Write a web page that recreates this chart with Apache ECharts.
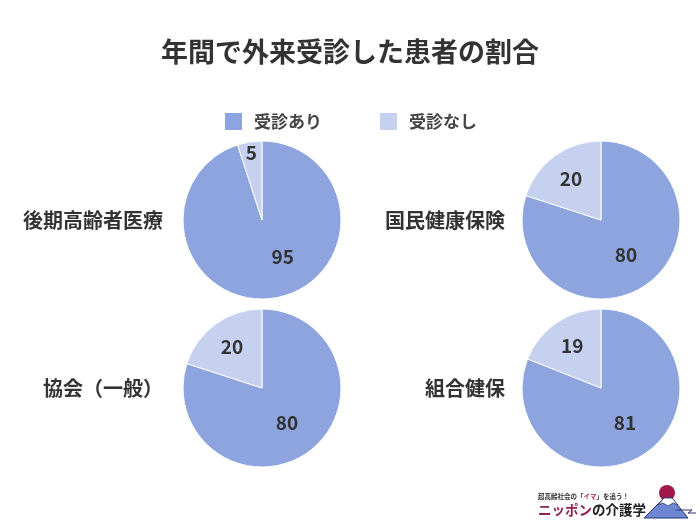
<!DOCTYPE html>
<html><head><meta charset="utf-8">
<script src="https://cdn.jsdelivr.net/npm/echarts@6/dist/echarts.min.js"></script>
<style>html,body{margin:0;padding:0;background:#fff}#c{width:700px;height:525px}</style>
</head><body><div id="c"></div>
<script>
const titleText = '年間で外来受診した患者の割合';
const seriesNames = ['受診あり', '受診なし'];
const categories = ['後期高齢者医療', '国民健康保険', '協会（一般）', '組合健保'];
const visitedValues = [95, 80, 80, 81];
const notVisitedValues = [5, 20, 20, 19];

const FONT = '"Noto Sans CJK JP", "Noto Sans", sans-serif';
const colors = ['#8da4de', '#c6d0ef'];
const centers = [[262, 220], [601, 220], [262, 388], [601, 388]];
const labelX = [163, 505, 163, 505];
const R = 79;

const chart = echarts.init(document.getElementById('c'), null, {renderer: 'canvas'});

function labelOffset(vals, i) {
  // push smaller-slice labels outward (derived from data angles)
  const total = vals.reduce((a, b) => a + b, 0);
  let start = 0;
  for (let k = 0; k < i; k++) start += vals[k];
  const mid = (start + vals[i] / 2) / total * 2 * Math.PI;
  const frac = vals[i] / total;
  if (frac > 0.9) return [14, -5];
  let f = 0.5;
  if (frac < 0.1) f = 0.82; else if (frac < 0.3) f = 0.61;
  const d = (f - 0.5) * R;
  return [Math.sin(mid) * d, -Math.cos(mid) * d];
}

const series = categories.map((cat, i) => {
  const vals = [visitedValues[i], notVisitedValues[i]];
  return {
    type: 'pie',
    name: cat,
    center: centers[i],
    radius: R,
    startAngle: 90,
    clockwise: true,
    animation: false,
    silent: true,
    itemStyle: {borderColor: '#fff', borderWidth: 1},
    label: {
      show: true, position: 'inside', formatter: '{c}',
      fontFamily: FONT, fontSize: 19, fontWeight: 'bold', color: '#333'
    },
    labelLine: {show: false},
    data: vals.map((v, j) => ({
      name: seriesNames[j], value: v,
      itemStyle: {color: colors[j]},
      label: {offset: labelOffset(vals, j)}
    }))
  };
});

const graphics = categories.map((cat, i) => ({
  type: 'text', x: labelX[i], y: centers[i][1],
  style: {text: cat, fontFamily: FONT, fontSize: 20, fontWeight: 'bold', fill: '#333',
          align: 'right', verticalAlign: 'middle'}
}));

// logo
graphics.push(
  {type: 'text', x: 538, y: 497, style: {
    text: '{a|超高齢社会の「}{b|イマ}{a|」を追う！}', verticalAlign: 'middle', align: 'left',
    rich: {a: {fontFamily: FONT, fontSize: 6.5, fontWeight: 'bold', fill: '#333'},
           b: {fontFamily: FONT, fontSize: 6.5, fontWeight: 'bold', fill: '#b0245a'}}}},
  {type: 'text', x: 538, y: 510, style: {
    text: '{a|ニッポン}{b|の介護学}', verticalAlign: 'middle', align: 'left',
    rich: {a: {fontFamily: FONT, fontSize: 13.5, fontWeight: 'bold', fill: '#8e1f4f'},
           b: {fontFamily: FONT, fontSize: 13.5, fontWeight: 'bold', fill: '#222'}}}},
  {type: 'circle', shape: {cx: 667, cy: 493, r: 8}, style: {fill: '#a3174a'}},
  {type: 'polygon', shape: {points: [[644, 518], [664, 498], [672, 498], [688, 518]]},
   style: {fill: '#6f86d2', stroke: '#2a3570', lineWidth: 1}},
  {type: 'polygon', shape: {points: [[658, 505], [664, 498], [672, 498], [678, 505], [673, 503], [668, 506], [663, 503]]},
   style: {fill: '#fff', stroke: '#2a3570', lineWidth: 0.8}},
  {type: 'polyline', shape: {points: [[676, 510], [692, 510], [688, 513], [696, 513]]},
   style: {stroke: '#2a3570', lineWidth: 1, fill: null}}
);

chart.setOption({
  backgroundColor: '#fff',
  title: {
    text: titleText, left: 'center', top: 33,
    textStyle: {fontFamily: FONT, fontSize: 27, fontWeight: 'bold', color: '#333'}
  },
  legend: {
    data: seriesNames, top: 106, left: 'center',
    itemWidth: 19, itemHeight: 19, itemGap: 56, icon: 'rect',
    textStyle: {fontFamily: FONT, fontSize: 17, fontWeight: 'bold', color: '#444', padding: [0, 0, 0, 6]}
  },
  color: colors,
  graphic: graphics,
  series: series
});
</script></body></html>
